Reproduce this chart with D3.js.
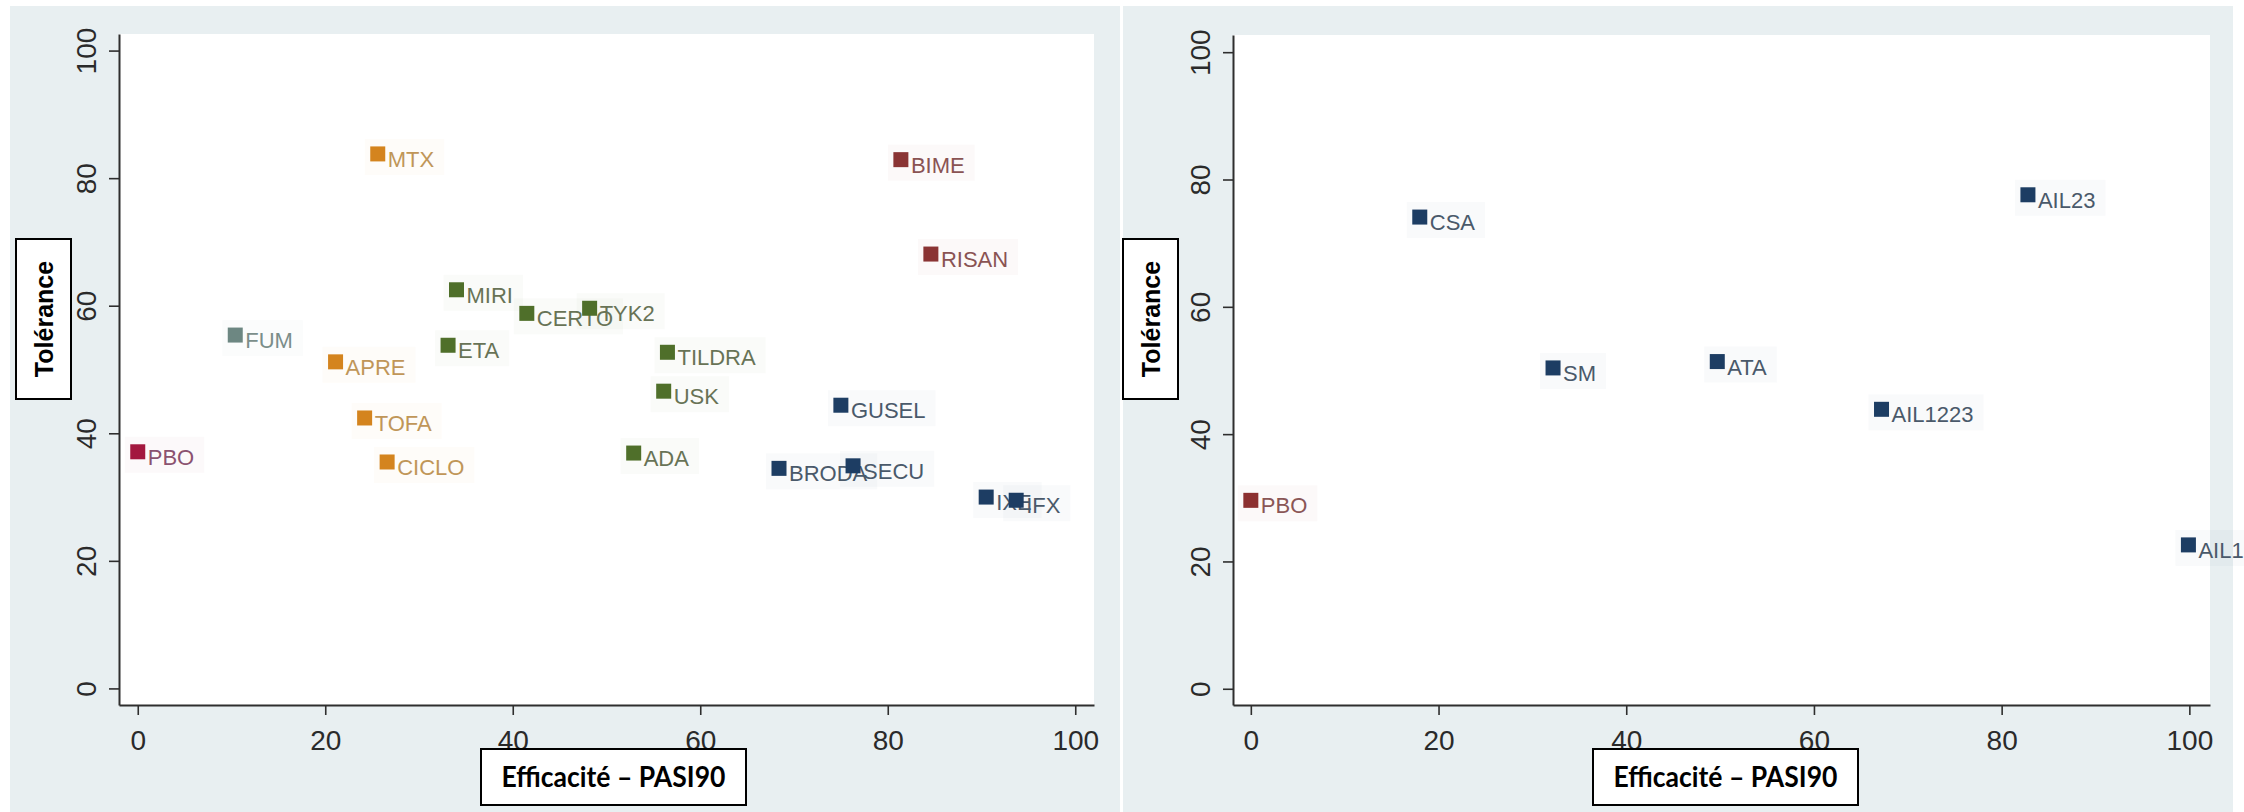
<!DOCTYPE html>
<html>
<head>
<meta charset="utf-8">
<script src="https://cdn.jsdelivr.net/npm/d3@7/dist/d3.min.js"></script>
<style>
  html, body { margin: 0; padding: 0; background: #ffffff; }
  svg { display: block; }
</style>
</head>
<body>
<svg id="chart" width="2244" height="812"></svg>
<script>
// ---- Data: efficacy (PASI90) vs tolerance, two panels ----
const leftNames = ["PBO", "FUM", "MTX", "APRE", "TOFA", "CICLO", "MIRI", "CERTO", "TYK2", "ETA",
                   "TILDRA", "USK", "ADA", "BIME", "RISAN", "GUSEL", "BRODA", "SECU", "IXE", "IFX"];
const leftEfficacy = [0, 10.4, 25.6, 21.1, 24.2, 26.6, 34.0, 41.5, 48.2, 33.1,
                      56.5, 56.1, 52.9, 81.4, 84.6, 75.0, 68.4, 76.3, 90.5, 93.7];
const leftTolerance = [37.1, 55.4, 83.8, 51.2, 42.4, 35.5, 62.5, 58.8, 59.6, 53.8,
                       52.7, 46.6, 36.9, 82.9, 68.1, 44.4, 34.5, 34.9, 30.0, 29.5];
const leftGroups = ["pbo", "fum", "conv", "conv", "conv", "conv", "green", "green", "green", "green",
                    "green", "green", "green", "red", "red", "blue", "blue", "blue", "blue", "blue"];

const rightNames = ["PBO", "CSA", "SM", "ATA", "AIL1223", "AIL23", "AIL17"];
const rightEfficacy = [0, 18.0, 32.2, 49.7, 67.2, 82.8, 99.9];
const rightTolerance = [29.6, 74.1, 50.4, 51.4, 43.9, 77.6, 22.6];
const rightGroups = ["pbo2", "blue", "blue", "blue", "blue", "blue", "blue"];

const tickValues = [0, 20, 40, 60, 80, 100];
const xTitle = "Efficacité – PASI90";
const yTitle = "Tolérance";

// ---- Styling ----
const markerColor = {
  pbo: "#a3183f", fum: "#6d8782", conv: "#d4841e", green: "#4f6f2a",
  red: "#8a3434", blue: "#1d3d63", pbo2: "#8c3030"
};
const labelColor = {
  pbo: "#8b5270", fum: "#7b8e8a", conv: "#c09658", green: "#687356",
  red: "#8a5353", blue: "#4a596a", pbo2: "#8a5656"
};
const panelBg = "#e8eff1";
const axisColor = "#2e2e2e";
const tickFont = "'Liberation Sans', Arial, sans-serif";

const panels = [
  { bg: [10, 6, 1120, 812], plot: [119, 34, 1094, 705], xDom: [-2, 102], yDom: [-2.6, 102.6],
    yTitleBox: [16, 239, 55, 160], xTitleBox: [481, 749, 265, 56],
    names: leftNames, xs: leftEfficacy, ys: leftTolerance, groups: leftGroups },
  { bg: [1123, 6, 2233, 812], plot: [1233, 35, 2210, 705], xDom: [-1.9, 102.2], yDom: [-2.55, 102.7],
    yTitleBox: [1123, 239, 55, 160], xTitleBox: [1593, 749, 265, 56],
    names: rightNames, xs: rightEfficacy, ys: rightTolerance, groups: rightGroups }
];

const svg = d3.select("#chart");
svg.append("rect").attr("width", 2244).attr("height", 812).attr("fill", "#ffffff");

const markerSize = 15;

panels.forEach(p => {
  const g = svg.append("g");
  const [bx0, by0, bx1, by1] = p.bg;
  g.append("rect").attr("x", bx0).attr("y", by0).attr("width", bx1 - bx0).attr("height", by1 - by0)
    .attr("fill", panelBg);

  const [px0, py0, px1, py1] = p.plot;
  g.append("rect").attr("x", px0).attr("y", py0).attr("width", px1 - px0).attr("height", py1 - py0)
    .attr("fill", "#ffffff");

  const x = d3.scaleLinear().domain(p.xDom).range([px0, px1]);
  const y = d3.scaleLinear().domain(p.yDom).range([py1, py0]);

  // Y axis with vertical (rotated) tick labels
  const yAxis = g.append("g").attr("transform", `translate(${px0},0)`)
    .call(d3.axisLeft(y).tickValues(tickValues).tickSize(10).tickSizeOuter(0));
  yAxis.select(".domain").attr("stroke", axisColor).attr("stroke-width", 2);
  yAxis.selectAll(".tick line").attr("stroke", axisColor).attr("stroke-width", 1.6);
  yAxis.selectAll(".tick text")
    .attr("x", null).attr("dy", "0.36em")
    .attr("transform", "translate(-33,0) rotate(-90)")
    .attr("text-anchor", "middle")
    .attr("font-family", tickFont).attr("font-size", 28).attr("fill", "#2a2a2a");

  // X axis
  const xAxis = g.append("g").attr("transform", `translate(0,${py1})`)
    .call(d3.axisBottom(x).tickValues(tickValues).tickSize(10).tickSizeOuter(0));
  xAxis.select(".domain").attr("stroke", axisColor).attr("stroke-width", 2);
  xAxis.selectAll(".tick line").attr("stroke", axisColor).attr("stroke-width", 1.6);
  xAxis.selectAll(".tick text")
    .attr("y", 45).attr("dy", 0)
    .attr("font-family", tickFont).attr("font-size", 28).attr("fill", "#2a2a2a");

  const pts = p.names.map((n, i) => ({ name: n, ex: p.xs[i], tol: p.ys[i], grp: p.groups[i] }));

  // faint tinted boxes behind labelled points, then labels, then markers on top
  const halo = g.append("g");
  const labels = g.append("g");
  const marks = g.append("g");

  labels.selectAll("text").data(pts).join("text")
    .attr("x", d => x(d.ex) + 10)
    .attr("y", d => y(d.tol) + 13)
    .attr("font-family", tickFont).attr("font-size", 22)
    .attr("fill", d => labelColor[d.grp])
    .text(d => d.name)
    .each(function (d) { d.tw = this.getComputedTextLength(); });

  halo.selectAll("rect").data(pts).join("rect")
    .attr("x", d => x(d.ex) - 13)
    .attr("y", d => y(d.tol) - 15)
    .attr("width", d => d.tw + 33)
    .attr("height", 36)
    .attr("fill", d => markerColor[d.grp])
    .attr("opacity", 0.028);

  marks.selectAll("rect").data(pts).join("rect")
    .attr("x", d => x(d.ex) - markerSize / 2)
    .attr("y", d => y(d.tol) - markerSize / 2)
    .attr("width", markerSize).attr("height", markerSize)
    .attr("fill", d => markerColor[d.grp]);

  // Boxed axis titles
  const [ybx, yby, ybw, ybh] = p.yTitleBox;
  g.append("rect").attr("x", ybx).attr("y", yby).attr("width", ybw).attr("height", ybh)
    .attr("fill", "#ffffff").attr("stroke", "#000").attr("stroke-width", 2);
  g.append("text")
    .attr("transform", `translate(${ybx + ybw / 2},${yby + ybh / 2}) rotate(-90)`)
    .attr("text-anchor", "middle").attr("dy", "0.36em")
    .attr("font-family", tickFont).attr("font-weight", "bold").attr("font-size", 25)
    .attr("fill", "#000").text(yTitle);

  const [xbx, xby, xbw, xbh] = p.xTitleBox;
  g.append("rect").attr("x", xbx).attr("y", xby).attr("width", xbw).attr("height", xbh)
    .attr("fill", "#ffffff").attr("stroke", "#000").attr("stroke-width", 2);
  g.append("text")
    .attr("x", xbx + xbw / 2).attr("y", xby + 38)
    .attr("text-anchor", "middle")
    .attr("font-family", "Lato, 'Open Sans', sans-serif").attr("font-weight", "bold").attr("font-size", 28)
    .attr("textLength", 224).attr("lengthAdjust", "spacingAndGlyphs")
    .attr("fill", "#000").text(xTitle);
});
</script>
</body>
</html>
